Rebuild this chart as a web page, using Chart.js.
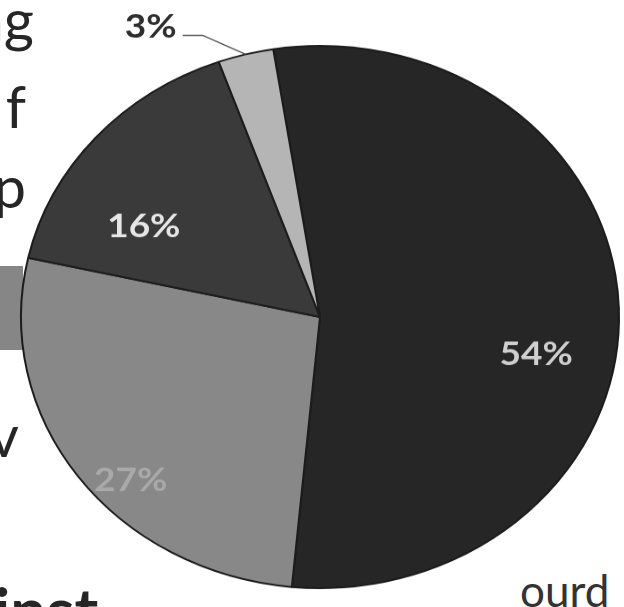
<!DOCTYPE html>
<html>
<head>
<meta charset="utf-8">
<script src="https://cdn.jsdelivr.net/npm/chart.js@4.4.1/dist/chart.umd.min.js"></script>
<style>
	html, body { margin: 0; padding: 0; background: #fff; }
	body { width: 624px; height: 607px; overflow: hidden; position: relative; font-family: Lato, "Open Sans", sans-serif; }
	#wrap { position: absolute; left: -20px; top: -23px; width: 680px; height: 680px; transform: scaleY(0.907); transform-origin: 50% 50%; }
	.frag { position: absolute; color: #262626; line-height: 1; white-space: nowrap; text-align: right; }
	#band { position: absolute; left: 0; top: 266px; width: 23px; height: 84px; background: #868686; }
</style>
</head>
<body>

<div class="frag" style="left:-200px;width:234px;top:-10px;font-size:58px;">ng</div>
<div class="frag" style="left:-200px;width:226px;top:77px;font-size:58px;">f</div>
<div class="frag" style="left:-200px;width:226px;top:157px;font-size:58px;">up</div>
<div id="band"></div>
<div class="frag" style="left:-200px;width:219px;top:406px;font-size:58px;">v</div>
<div class="frag" style="left:-6px;top:578px;font-size:64px;font-weight:bold;text-align:left;">inst</div>
<div class="frag" style="left:520px;top:568px;font-size:44px;color:#333;text-align:left;">ourd</div>

<div id="wrap"><canvas id="pie" width="680" height="680"></canvas></div>

<script>
//
// Pie chart
//

var categories = ['Share A', 'Share B', 'Share C', 'Share D'];
var values = [54, 27, 16, 3];
var sliceColors = ['#262626', '#888888', '#3a3a3a', '#b5b5b5'];
var labelColors = ['#cfcfcf', '#a9a9a9', '#e6e6e6', '#2e2e2e'];

// Labels drawn on (or beside) each slice
var sliceLabels = {
	id: 'sliceLabels',
	afterDatasetsDraw: function(chart) {
		var ctx = chart.ctx;
		var meta = chart.getDatasetMeta(0);
		ctx.save();
		ctx.font = 'bold 37px Lato, "Open Sans", sans-serif';
		meta.data.forEach(function(arc, i) {
			var p = arc.getProps(['x', 'y', 'startAngle', 'endAngle', 'outerRadius'], true);
			var mid = (p.startAngle + p.endAngle) / 2;
			var text = values[i] + '%';
			if (values[i] < 5) {
				// small slice: label outside with a leader line
				var ex = p.x + Math.cos(mid) * p.outerRadius;
				var ey = p.y + Math.sin(mid) * p.outerRadius;
				var kx = ex - 43, ky = ey - 21;
				ctx.strokeStyle = '#555';
				ctx.lineWidth = 1.5;
				ctx.beginPath();
				ctx.moveTo(ex, ey);
				ctx.lineTo(kx, ky);
				ctx.lineTo(kx - 20, ky);
				ctx.stroke();
				ctx.fillStyle = labelColors[i];
				ctx.textAlign = 'right';
				ctx.textBaseline = 'middle';
				ctx.fillText(text, kx - 26, ky - 9);
			} else {
				var r = p.outerRadius * 0.75;
				ctx.fillStyle = labelColors[i];
				ctx.textAlign = 'center';
				ctx.textBaseline = 'middle';
				ctx.fillText(text, p.x + Math.cos(mid) * r - 8, p.y + Math.sin(mid) * r + 48);
			}
		});
		ctx.restore();
	}
};

var pieChart = new Chart(document.getElementById('pie'), {
	type: 'pie',
	data: {
		labels: categories,
		datasets: [{
			data: values,
			backgroundColor: sliceColors,
			borderColor: '#1c1c1c',
			borderWidth: 2
		}]
	},
	options: {
		responsive: false,
		animation: false,
		rotation: -9,
		layout: { padding: 40 },
		plugins: {
			legend: { display: false },
			tooltip: { enabled: false }
		}
	},
	plugins: [sliceLabels]
});
</script>
</body>
</html>
